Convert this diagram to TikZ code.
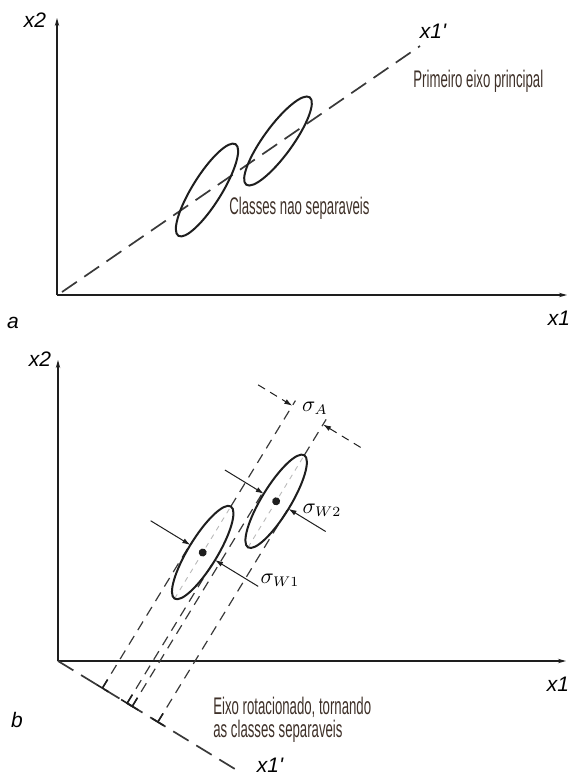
\documentclass[tikz,border=0pt]{standalone}
\usepackage{fontspec}
\newfontfamily\axisfont{Liberation Sans}
\newfontfamily\notefont[FakeStretch=0.55]{Liberation Sans}
\usetikzlibrary{arrows.meta}

\definecolor{notecol}{RGB}{62,48,40}
\definecolor{inkcol}{RGB}{30,30,30}

\begin{document}
\begin{tikzpicture}[
  x=0.5pt, y=-0.5pt,
  axis/.style    = {-{Stealth[length=4pt,width=2.2pt]}, line width=0.6pt, inkcol},
  axlabel/.style = {font=\axisfont\itshape\fontsize{10.5}{12}\selectfont, inner sep=0pt},
  note/.style    = {font=\notefont\fontsize{12}{11.5}\selectfont, text=notecol,
                    inner sep=0pt, align=left},
  cls/.style     = {line width=1pt, inkcol},
  mainax/.style  = {line width=0.85pt, gray!45!black, dash pattern=on 9pt off 4.5pt},
  proj/.style    = {line width=0.6pt, gray!45!black, dash pattern=on 5pt off 3.5pt},
  ctrline/.style = {line width=0.45pt, gray!55, dash pattern=on 2.5pt off 2.5pt},
  dimarr/.style  = {-{Latex[length=4pt,width=2.6pt]}, line width=0.5pt, inkcol},
  sigma/.style   = {font=\fontsize{10.5}{11}\selectfont, inner sep=0pt},
]
\useasboundingbox (0,0) rectangle (574,778);

%% ── (a) original axes ───────────────────────────────────────────────────────
\coordinate (Oa) at (57,295);
\coordinate (Ya) at (57,18);
\coordinate (Xa) at (567,295);
\draw[axis] (Oa) -- (Ya);
\draw[axis] (Oa) -- (Xa);
\node[axlabel] (x2a) at (35,20) {x2};
\node[axlabel] (x1a) at (559,318) {x1};
\node[axlabel] (lbla) at (13,323) {a};

%% ── (a) first principal axis and classes ────────────────────────────────────
\coordinate (Pa0) at (62,292);
\coordinate (Pa1) at (420,46);
\draw[mainax] (Pa0) -- (Pa1);
\node[axlabel] (x1pa) at (433,31) {x1'};
\node[note, anchor=west] (pri) at (413,81) {Primeiro eixo principal};

\draw[cls, rotate around={58:(207,190)}] (207,190) ellipse [x radius=54, y radius=14.5];
\draw[cls, rotate around={54:(278,141)}] (278,141) ellipse [x radius=54, y radius=14.5];
\node[note, anchor=west] (sep) at (229,208) {Classes nao separaveis};

%% ── (b) original axes ───────────────────────────────────────────────────────
\coordinate (Ob) at (58,661);
\coordinate (Yb) at (58,360);
\coordinate (Xb) at (566,661);
\draw[axis] (Ob) -- (Yb);
\draw[axis] (Ob) -- (Xb);
\node[axlabel] (x2b) at (40,359) {x2};
\node[axlabel] (x1b) at (558,684) {x1};
\node[axlabel] (lblb) at (17,720) {b};

%% ── (b) rotated frame: u along x1', v along the projections ─────────────────
\begin{scope}[shift={(Ob)}, rotate=-31.4, yscale=-1]
  \coordinate (c1) at (67,168);
  \coordinate (c2) at (103,250);
  \draw[mainax] (0,0) -- (208,0);
  % projection lines and ticks
  \foreach \u/\v in {52/170, 81/170, 87/255, 117/255} {
    \draw[proj] (\u,0) -- (\u,\v);
    \draw[line width=0.8pt, inkcol] (\u-7,0) -- (\u+7,0);
    \draw[line width=0.8pt, inkcol] (\u,0) -- (\u,10);
  }
  % class centre lines
  \draw[ctrline] (67,114) -- (67,222);
  \draw[proj] (67,222) -- (67,346);
  \draw[ctrline] (103,196) -- (103,304);
  \draw[proj] (103,304) -- (103,346);
  % classes
  \draw[cls] (c1) ellipse [x radius=14.5, y radius=54];
  \draw[cls] (c2) ellipse [x radius=14.5, y radius=54];
  \fill[inkcol] (c1) circle [radius=4];
  \fill[inkcol] (c2) circle [radius=4];
  % spreads
  \draw[dimarr] (6,168) -- (52.5,168);
  \draw[dimarr] (132,168) -- (81.5,168);
  \draw[dimarr] (43,250) -- (88.5,250);
  \draw[dimarr] (161,250) -- (117.5,250);
  \draw[dimarr, dash pattern=on 4pt off 3pt] (27,340) -- (67,340);
  \draw[dimarr, dash pattern=on 4pt off 3pt] (147,340) -- (103,340);
\end{scope}

\node[sigma] (sA) at (315,408) {$\sigma_A$};
\node[sigma] (sW2) at (322,510) {$\sigma_{W2}$};
\node[sigma] (sW1) at (280,580) {$\sigma_{W1}$};
\node[axlabel] (x1pb) at (270,765) {x1'};
\node[note, anchor=north west] (rot) at (213,697)
  {Eixo rotacionado, tornando\\as classes separaveis};

\end{tikzpicture}
\end{document}
